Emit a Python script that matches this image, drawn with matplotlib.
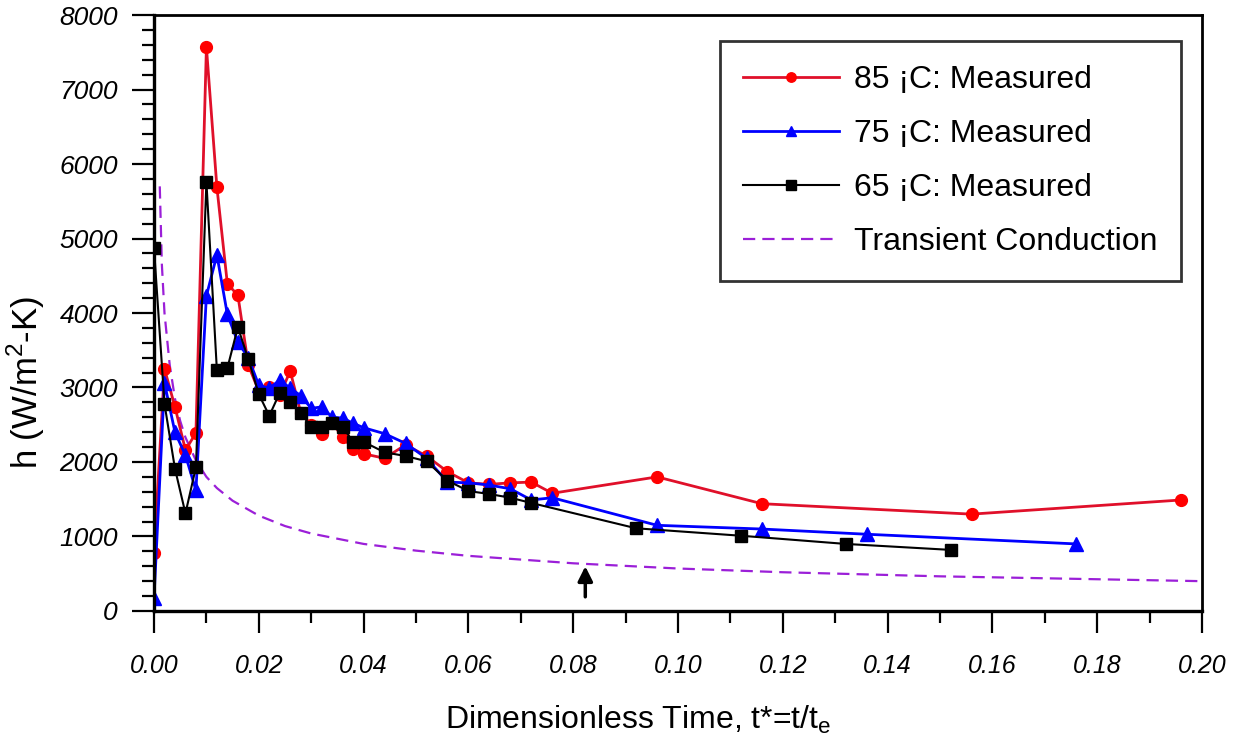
import matplotlib
matplotlib.use('Agg')
import matplotlib.pyplot as plt
from matplotlib.ticker import MultipleLocator, FormatStrFormatter

plt.rcParams['font.family'] = ['Liberation Sans', 'DejaVu Sans']

# 85 C measured
t85 = [0.000, 0.002, 0.004, 0.006, 0.008, 0.010, 0.012, 0.014, 0.016, 0.018,
       0.020, 0.022, 0.024, 0.026, 0.028, 0.030, 0.032, 0.034, 0.036, 0.038,
       0.040, 0.044, 0.048, 0.052, 0.056, 0.060, 0.064, 0.068, 0.072, 0.076,
       0.096, 0.116, 0.156, 0.196]
h85 = [780, 3250, 2740, 2160, 2390, 7570, 5690, 4390, 4240, 3300,
       2950, 3000, 2900, 3220, 2660, 2500, 2370, 2520, 2340, 2170,
       2110, 2050, 2230, 2080, 1870, 1720, 1700, 1720, 1730, 1580,
       1800, 1440, 1300, 1490]

# 75 C measured
t75 = [0.000, 0.002, 0.004, 0.006, 0.008, 0.010, 0.012, 0.014, 0.016, 0.018,
       0.020, 0.022, 0.024, 0.026, 0.028, 0.030, 0.032, 0.034, 0.036, 0.038,
       0.040, 0.044, 0.048, 0.052, 0.056, 0.060, 0.064, 0.068, 0.072, 0.076,
       0.096, 0.116, 0.136, 0.176]
h75 = [170, 3060, 2400, 2090, 1620, 4230, 4780, 3980, 3610, 3400,
       3030, 2990, 3100, 2990, 2890, 2720, 2740, 2600, 2590, 2520,
       2460, 2380, 2250, 2050, 1730, 1720, 1690, 1640, 1490, 1520,
       1150, 1100, 1030, 900]

# 65 C measured
t65 = [0.000, 0.002, 0.004, 0.006, 0.008, 0.010, 0.012, 0.014, 0.016, 0.018,
       0.020, 0.022, 0.024, 0.026, 0.028, 0.030, 0.032, 0.034, 0.036, 0.038,
       0.040, 0.044, 0.048, 0.052, 0.056, 0.060, 0.064, 0.068, 0.072,
       0.092, 0.112, 0.132, 0.152]
h65 = [4870, 2780, 1910, 1310, 1930, 5760, 3230, 3260, 3810, 3380,
       2910, 2620, 2930, 2800, 2660, 2470, 2470, 2520, 2470, 2270,
       2270, 2130, 2080, 2010, 1750, 1610, 1570, 1520, 1450,
       1110, 1010, 900, 820]

# transient conduction curve
t_tc = [0.0011, 0.0015, 0.002, 0.003, 0.004, 0.005, 0.006, 0.008, 0.010, 0.012,
        0.015, 0.020, 0.025, 0.030, 0.040, 0.050, 0.060, 0.080, 0.100, 0.120,
        0.150, 0.200]
h_tc = [5700, 4650, 4000, 3300, 2850, 2550, 2330, 2020, 1800, 1650,
        1480, 1280, 1140, 1040, 900, 810, 740, 640, 570, 520,
        465, 400]

# arrow marker
arrow_t = 0.0823
arrow_tail = 190
arrow_head = 600

fig = plt.figure(figsize=(12.38, 7.44), dpi=100)
ax = fig.add_axes([0.1244, 0.1788, 0.8466, 0.8010])

ax.plot(t_tc, h_tc, linestyle=(0, (5.5, 3.2)), color='#9b1fd8', lw=1.6,
        label='Transient Conduction')
ax.plot(t85, h85, '-', color='#e0102a', lw=2, marker='o', ms=8.5,
        mfc='red', mec='red', label='85 \u00a1C: Measured')
ax.plot(t75, h75, '-', color='#0000ff', lw=2, marker='^', ms=9.5,
        mfc='#0000ff', mec='#0000ff', label='75 \u00a1C: Measured')
ax.plot(t65, h65, '-', color='black', lw=1.5, marker='s', ms=9,
        mfc='black', mec='black', label='65 \u00a1C: Measured')

ax.annotate('', xy=(arrow_t, arrow_head), xytext=(arrow_t, arrow_tail),
            arrowprops=dict(arrowstyle='-|>', color='black', lw=2.5,
                            mutation_scale=22, shrinkA=0, shrinkB=0))

ax.set_xlim(0, 0.20)
ax.set_ylim(0, 8000)
ax.xaxis.set_major_locator(MultipleLocator(0.02))
ax.xaxis.set_minor_locator(MultipleLocator(0.01))
ax.yaxis.set_major_locator(MultipleLocator(1000))
ax.yaxis.set_minor_locator(MultipleLocator(200))
ax.xaxis.set_major_formatter(FormatStrFormatter('%.2f'))

ax.tick_params(which='major', direction='out', length=16, width=1.6)
ax.tick_params(which='minor', direction='out', length=8.5, width=1.6)
ax.tick_params(axis='x', which='major', pad=15)
ax.tick_params(axis='y', which='major', pad=10)

for lab in ax.get_xticklabels():
    lab.set_style('italic')
    lab.set_fontsize(18)
for lab in ax.get_yticklabels():
    lab.set_style('italic')
    lab.set_fontsize(19)

for side in ['left', 'bottom']:
    ax.spines[side].set_linewidth(2.4)
for side in ['top', 'right']:
    ax.spines[side].set_linewidth(2)

ax.set_ylabel('h (W/m$^\\mathregular{2}$-K)', fontsize=25)
ax.yaxis.set_label_coords(-0.102, 0.383)
ax.set_xlabel('Dimensionless Time, t*=t/t$_\\mathregular{e}$', fontsize=23)
ax.xaxis.set_label_coords(0.462, -0.155)

handles, labels = ax.get_legend_handles_labels()
order = [1, 2, 3, 0]
leg = ax.legend([handles[i] for i in order], [labels[i] for i in order],
                loc='upper right', bbox_to_anchor=(0.980, 0.956),
                borderaxespad=0, fontsize=23, numpoints=1, fancybox=False,
                handlelength=3.0, handletextpad=0.45, labelspacing=0.75,
                borderpad=0.75, markerscale=0.8)
leg.get_frame().set_edgecolor('black')
leg.get_frame().set_linewidth(2)

fig.savefig('out.png', dpi=100)
